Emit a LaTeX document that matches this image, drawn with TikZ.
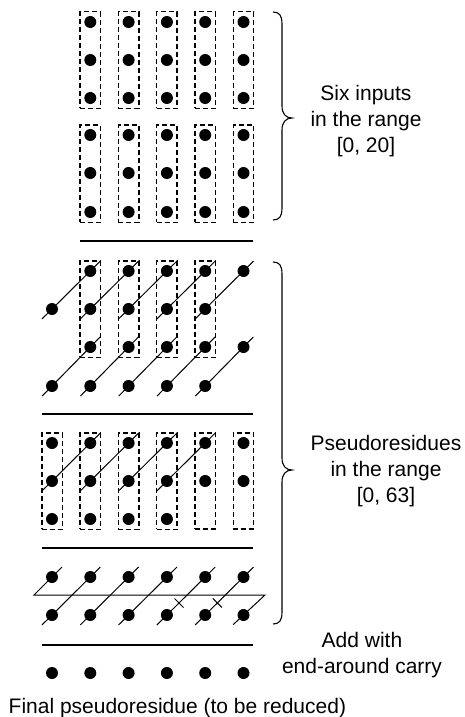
\documentclass[tikz,border=0pt]{standalone}
\usepackage{fontspec}
\setmainfont{Liberation Sans}
\usetikzlibrary{fit,calc}
\tikzset{
  dot/.style={circle, fill=black, inner sep=0pt, minimum size=12pt},
  dbox/.style={draw, dash pattern=on 5pt off 3pt, line width=1.4pt, inner xsep=4pt, inner ysep=4pt},
  diag/.style={line width=1pt, shorten <=-14.1pt, shorten >=-14.1pt},
  sepline/.style={line width=1.3pt},
  brace/.style={line width=1.1pt},
  lbl/.style={font=\fontsize{21}{26}\selectfont, anchor=base, inner sep=0pt},
}
\begin{document}
\begin{tikzpicture}[x=1pt,y=-1pt]
\useasboundingbox (0,0) rectangle (464,717);

% ---- section 1: six inputs ----
\foreach \r/\y in {1/22,2/60,3/98,4/135,5/173,6/212}
  \foreach \c in {2,...,6}
    \node[dot] (a-\r-\c) at ({52+38.3*(\c-1)},\y) {};
\foreach \c in {2,...,6} {
  \node[dbox, fit=(a-1-\c)(a-3-\c)] (ab-1-\c) {};
  \node[dbox, fit=(a-4-\c)(a-6-\c)] (ab-2-\c) {};
}
\draw[sepline] (80,241) -- (253,241);

% ---- section 2 ----
\foreach \c in {2,...,6} {
  \node[dot] (b-1-\c) at ({52+38.3*(\c-1)},271) {};
  \node[dot] (b-3-\c) at ({52+38.3*(\c-1)},347) {};
}
\foreach \c in {1,...,5} {
  \node[dot] (b-2-\c) at ({52+38.3*(\c-1)},309) {};
  \node[dot] (b-4-\c) at ({52+38.3*(\c-1)},386) {};
}
\foreach \c in {2,...,5}
  \node[dbox, fit=(b-1-\c)(b-3-\c)] (bb-\c) {};
\foreach \c [evaluate=\c as \n using int(\c+1)] in {1,...,5} {
  \draw[diag] (b-2-\c.center) -- (b-1-\n.center);
  \draw[diag] (b-4-\c.center) -- (b-3-\n.center);
}
\draw[sepline] (42,414) -- (253,414);

% ---- section 3 ----
\foreach \c in {1,...,6} {
  \node[dot] (c-1-\c) at ({52+38.3*(\c-1)},443) {};
  \node[dot] (c-2-\c) at ({52+38.3*(\c-1)},481) {};
}
\foreach \c in {1,...,4}
  \node[dot] (c-3-\c) at ({52+38.3*(\c-1)},519) {};
\coordinate (c-3-5) at ({52+38.3*4},525);
\coordinate (c-3-6) at ({52+38.3*5},525);
\foreach \c in {1,...,6}
  \node[dbox, fit=(c-1-\c)(c-3-\c)] (cb-\c) {};
\foreach \c [evaluate=\c as \n using int(\c+1)] in {1,...,4}
  \draw[diag] (c-2-\c.center) -- (c-1-\n.center);
\draw[sepline] (42,548) -- (253,548);

% ---- section 4: add with end-around carry ----
\foreach \c in {1,...,6} {
  \node[dot] (d-1-\c) at ({52+38.3*(\c-1)},577) {};
  \node[dot] (d-2-\c) at ({52+38.3*(\c-1)},615) {};
}
\foreach \c [evaluate=\c as \n using int(\c+1)] in {1,...,5}
  \draw[diag] (d-2-\c.center) -- (d-1-\n.center);
\coordinate (wl) at (34,595);
\coordinate (wr) at (265,595);
\draw[diag] (d-1-1.center) -- (wl) -- (wr) -- (d-2-6.center);
\coordinate (x1) at (179,603);
\coordinate (x2) at (217.3,603);
\foreach \x in {x1,x2}
  \draw[line width=1pt] ($(\x)+(-4.5,-4.5)$) -- ($(\x)+(4.5,4.5)$);
\draw[sepline] (42,645) -- (253,645);

% ---- final row ----
\foreach \c in {1,...,6}
  \node[dot] (e-\c) at ({52+38.3*(\c-1)},673) {};

% ---- braces ----
\draw[brace] (273,12) .. controls (279,12) and (282,15) .. (282,24) -- (282,106)
  .. controls (282,114) and (286,118) .. (292,118)
  .. controls (286,118) and (282,122) .. (282,130) -- (282,208)
  .. controls (282,217) and (279,220) .. (273,220);
\draw[brace] (273,262) .. controls (279,262) and (282,265) .. (282,274) -- (282,458)
  .. controls (282,466) and (286,470) .. (292,470)
  .. controls (286,470) and (282,474) .. (282,482) -- (282,612)
  .. controls (282,621) and (279,624) .. (273,624);

% ---- labels ----
\node[lbl] (l1a) at (366,100) {Six inputs};
\node[lbl] (l1b) at (366,126) {in the range};
\node[lbl] (l1c) at (366,152) {[0, 20]};
\node[lbl] (l2a) at (386,450) {Pseudoresidues};
\node[lbl] (l2b) at (386,476) {in the range};
\node[lbl] (l2c) at (386,502) {[0, 63]};
\node[lbl] (l3a) at (362,647) {Add with};
\node[lbl] (l3b) at (362,673) {end-around carry};
\node[lbl, anchor=base west] (l4) at (8.5,713) {Final pseudoresidue (to be reduced)};
\end{tikzpicture}
\end{document}
